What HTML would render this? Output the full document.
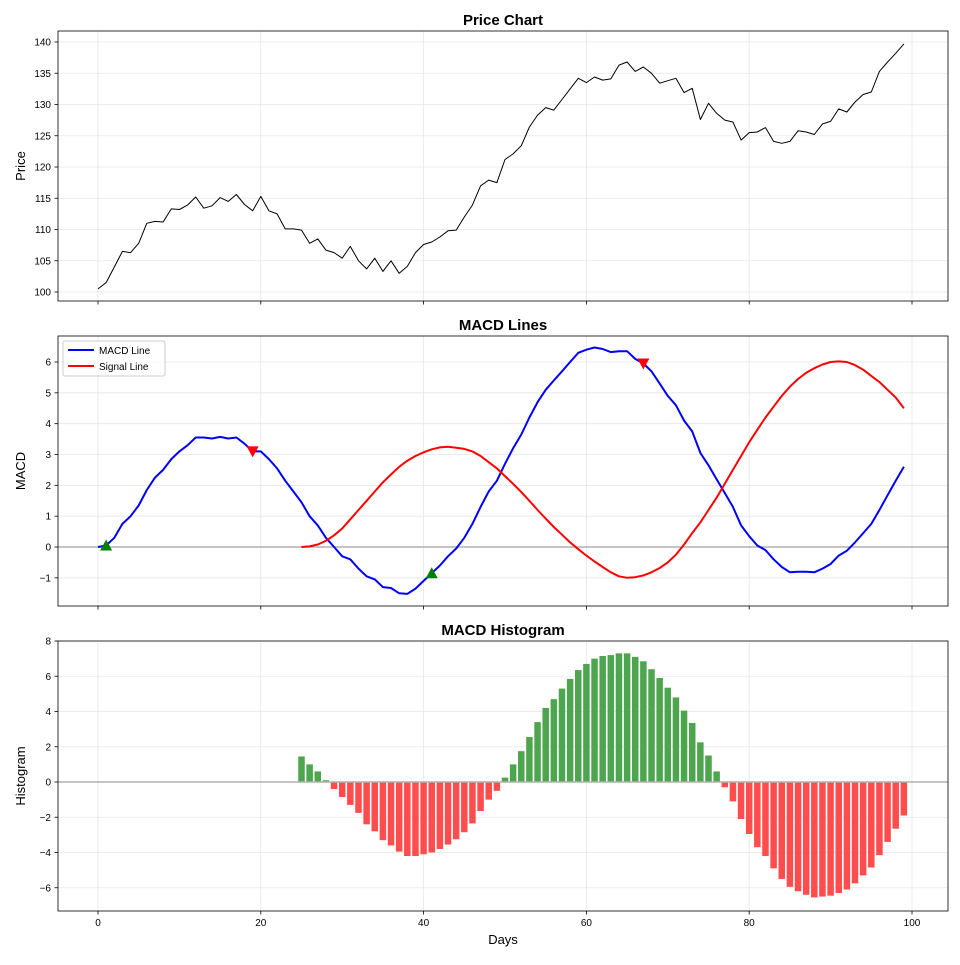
<!DOCTYPE html>
<html><head><meta charset="utf-8"><style>
body{margin:0;background:#fff;}
svg text{font-family:"Liberation Sans","DejaVu Sans",sans-serif;}
</style></head><body>
<svg id="s" width="960" height="960" xmlns="http://www.w3.org/2000/svg"></svg>
<script>
const price=[100.5,101.5,104,106.5,106.3,107.8,111,111.3,111.2,113.3,113.2,113.9,115.2,113.4,113.8,115.1,114.5,115.6,114,113,115.3,113,112.5,110.1,110.1,109.9,107.8,108.5,106.7,106.3,105.4,107.3,105,103.7,105.4,103.3,105,103,104.1,106.3,107.6,108,108.8,109.8,109.9,112,113.9,117,117.9,117.5,121.2,122.1,123.4,126.4,128.3,129.5,129.1,130.8,132.5,134.2,133.5,134.4,133.9,134.1,136.3,136.8,135.3,136,135,133.4,133.8,134.2,131.9,132.6,127.6,130.2,128.6,127.5,127.2,124.3,125.5,125.6,126.3,124.1,123.8,124.1,125.8,125.6,125.2,126.9,127.3,129.3,128.8,130.4,131.6,132,135.3,136.8,138.2,139.7];
const macd=[0,0.05,0.3,0.75,1.0,1.35,1.85,2.25,2.5,2.85,3.1,3.3,3.55,3.55,3.52,3.57,3.52,3.55,3.35,3.1,3.1,2.85,2.55,2.15,1.8,1.45,1.0,0.7,0.3,0,-0.3,-0.4,-0.7,-0.95,-1.05,-1.3,-1.33,-1.5,-1.52,-1.35,-1.1,-0.85,-0.6,-0.3,-0.05,0.3,0.75,1.3,1.8,2.15,2.7,3.2,3.65,4.2,4.7,5.1,5.4,5.7,6.0,6.3,6.4,6.47,6.42,6.32,6.35,6.35,6.1,5.95,5.7,5.3,4.9,4.6,4.1,3.75,3.05,2.65,2.2,1.75,1.3,0.7,0.35,0.05,-0.1,-0.4,-0.65,-0.82,-0.8,-0.8,-0.82,-0.7,-0.55,-0.28,-0.12,0.15,0.45,0.75,1.2,1.68,2.15,2.6];
const sig=[0,0.02,0.08,0.2,0.38,0.6,0.9,1.2,1.5,1.8,2.1,2.35,2.6,2.8,2.95,3.07,3.17,3.23,3.25,3.22,3.18,3.1,2.95,2.75,2.55,2.3,2.05,1.78,1.5,1.2,0.92,0.65,0.4,0.15,-0.07,-0.28,-0.47,-0.65,-0.82,-0.95,-1.0,-0.98,-0.92,-0.82,-0.68,-0.5,-0.25,0.08,0.45,0.8,1.2,1.6,2.05,2.5,2.95,3.4,3.8,4.2,4.55,4.9,5.2,5.45,5.65,5.8,5.92,6.0,6.02,6.0,5.9,5.75,5.55,5.35,5.1,4.85,4.5];
const hist=[1.45,1.0,0.6,0.1,-0.4,-0.85,-1.3,-1.75,-2.4,-2.8,-3.3,-3.6,-3.95,-4.2,-4.2,-4.1,-4.0,-3.8,-3.55,-3.25,-2.85,-2.35,-1.65,-1.0,-0.5,0.25,1.0,1.75,2.55,3.4,4.2,4.7,5.3,5.85,6.35,6.7,7.0,7.15,7.2,7.3,7.3,7.1,6.85,6.4,5.9,5.35,4.8,4.05,3.35,2.25,1.5,0.6,-0.3,-1.1,-2.1,-2.95,-3.7,-4.2,-4.9,-5.5,-5.95,-6.2,-6.4,-6.55,-6.5,-6.45,-6.3,-6.1,-5.75,-5.3,-4.85,-4.15,-3.4,-2.65,-1.9];
const X=d=>98+d*8.14;
let o='';
function panel(top,bot,v0,y0,v1,y1,ticks,title,ylab,xlabels){
  const Y=v=>y0+(v-v0)*(y1-y0)/(v1-v0);
  for(let d=0;d<=100;d+=20)o+=`<line x1="${X(d)}" x2="${X(d)}" y1="${top}" y2="${bot}" stroke="#e6e6e6" stroke-width="0.8"/>`;
  for(const t of ticks)o+=`<line x1="58" x2="948" y1="${Y(t)}" y2="${Y(t)}" stroke="#e6e6e6" stroke-width="0.8"/>`;
  o+=`<text x="503" y="${top-6}" font-size="15" font-weight="bold" text-anchor="middle">${title}</text>`;
  o+=`<text transform="translate(25,${(top+bot)/2}) rotate(-90)" font-size="13" text-anchor="middle">${ylab}</text>`;
  for(const t of ticks){o+=`<line x1="54.5" x2="58" y1="${Y(t)}" y2="${Y(t)}" stroke="#000" stroke-width="0.8"/><text x="51" y="${Y(t)+3.5}" font-size="10" text-anchor="end">${t<0?'−'+(-t):t}</text>`;}
  for(let d=0;d<=100;d+=20){o+=`<line x1="${X(d)}" x2="${X(d)}" y1="${bot}" y2="${bot+3.5}" stroke="#000" stroke-width="0.8"/>`;if(xlabels)o+=`<text x="${X(d)}" y="${bot+15}" font-size="10" text-anchor="middle">${d}</text>`;}
  return Y;
}
function frame(top,bot){o+=`<rect x="58" y="${top}" width="890" height="${bot-top}" fill="none" stroke="#000" stroke-width="0.8"/>`;}
function pl(arr,off,Y,col,w){return `<polyline fill="none" stroke="${col}" stroke-width="${w}" stroke-linejoin="round" points="${arr.map((v,i)=>X(i+off).toFixed(1)+','+Y(v).toFixed(1)).join(' ')}"/>`;}
// panel 1
let Y1=panel(31,301,100,292,140,42,[100,105,110,115,120,125,130,135,140],'Price Chart','Price',false);
o+=pl(price,0,Y1,'#000',1);frame(31,301);
// panel 2
let Y2=panel(336,606,0,547,6,362,[-1,0,1,2,3,4,5,6],'MACD Lines','MACD',false);
o+=`<line x1="58" x2="948" y1="${Y2(0)}" y2="${Y2(0)}" stroke="#b0b0b0" stroke-width="1.5"/>`;
o+=pl(macd,0,Y2,'#0000ff',2)+pl(sig,25,Y2,'#ff0000',2);
function up(d,v){const x=X(d),y=Y2(v);o+=`<polygon points="${x},${y-6} ${x-6},${y+5} ${x+6},${y+5}" fill="green"/>`;}
function dn(d,v){const x=X(d),y=Y2(v);o+=`<polygon points="${x},${y+6} ${x-6},${y-5} ${x+6},${y-5}" fill="red"/>`;}
up(1,0.05);up(41,-0.85);dn(19,3.1);dn(67,5.95);
o+=`<rect x="63" y="341" width="102" height="35" rx="2" fill="#fff" fill-opacity="0.8" stroke="#ccc"/>
<line x1="68" x2="94" y1="350" y2="350" stroke="#0000ff" stroke-width="2"/><text x="99" y="354" font-size="10">MACD Line</text>
<line x1="68" x2="94" y1="366" y2="366" stroke="#ff0000" stroke-width="2"/><text x="99" y="370" font-size="10">Signal Line</text>`;
frame(336,606);
// panel 3
let Y3=panel(641,911,0,782,8,641,[-6,-4,-2,0,2,4,6,8],'MACD Histogram','Histogram',true);
hist.forEach((v,i)=>{const d=i+25,y0=Y3(0),y=Y3(v);o+=`<rect x="${X(d)-3.25}" y="${Math.min(y,y0)}" width="6.5" height="${Math.abs(y-y0)}" fill="${v>=0?'#4da64d':'#ff4d4d'}"/>`;});
o+=`<line x1="58" x2="948" y1="${Y3(0)}" y2="${Y3(0)}" stroke="#b0b0b0" stroke-width="1.5"/>`;
frame(641,911);
o+=`<text x="503" y="944" font-size="13" text-anchor="middle">Days</text>`;
document.getElementById('s').innerHTML=o;
</script>
</body></html>
